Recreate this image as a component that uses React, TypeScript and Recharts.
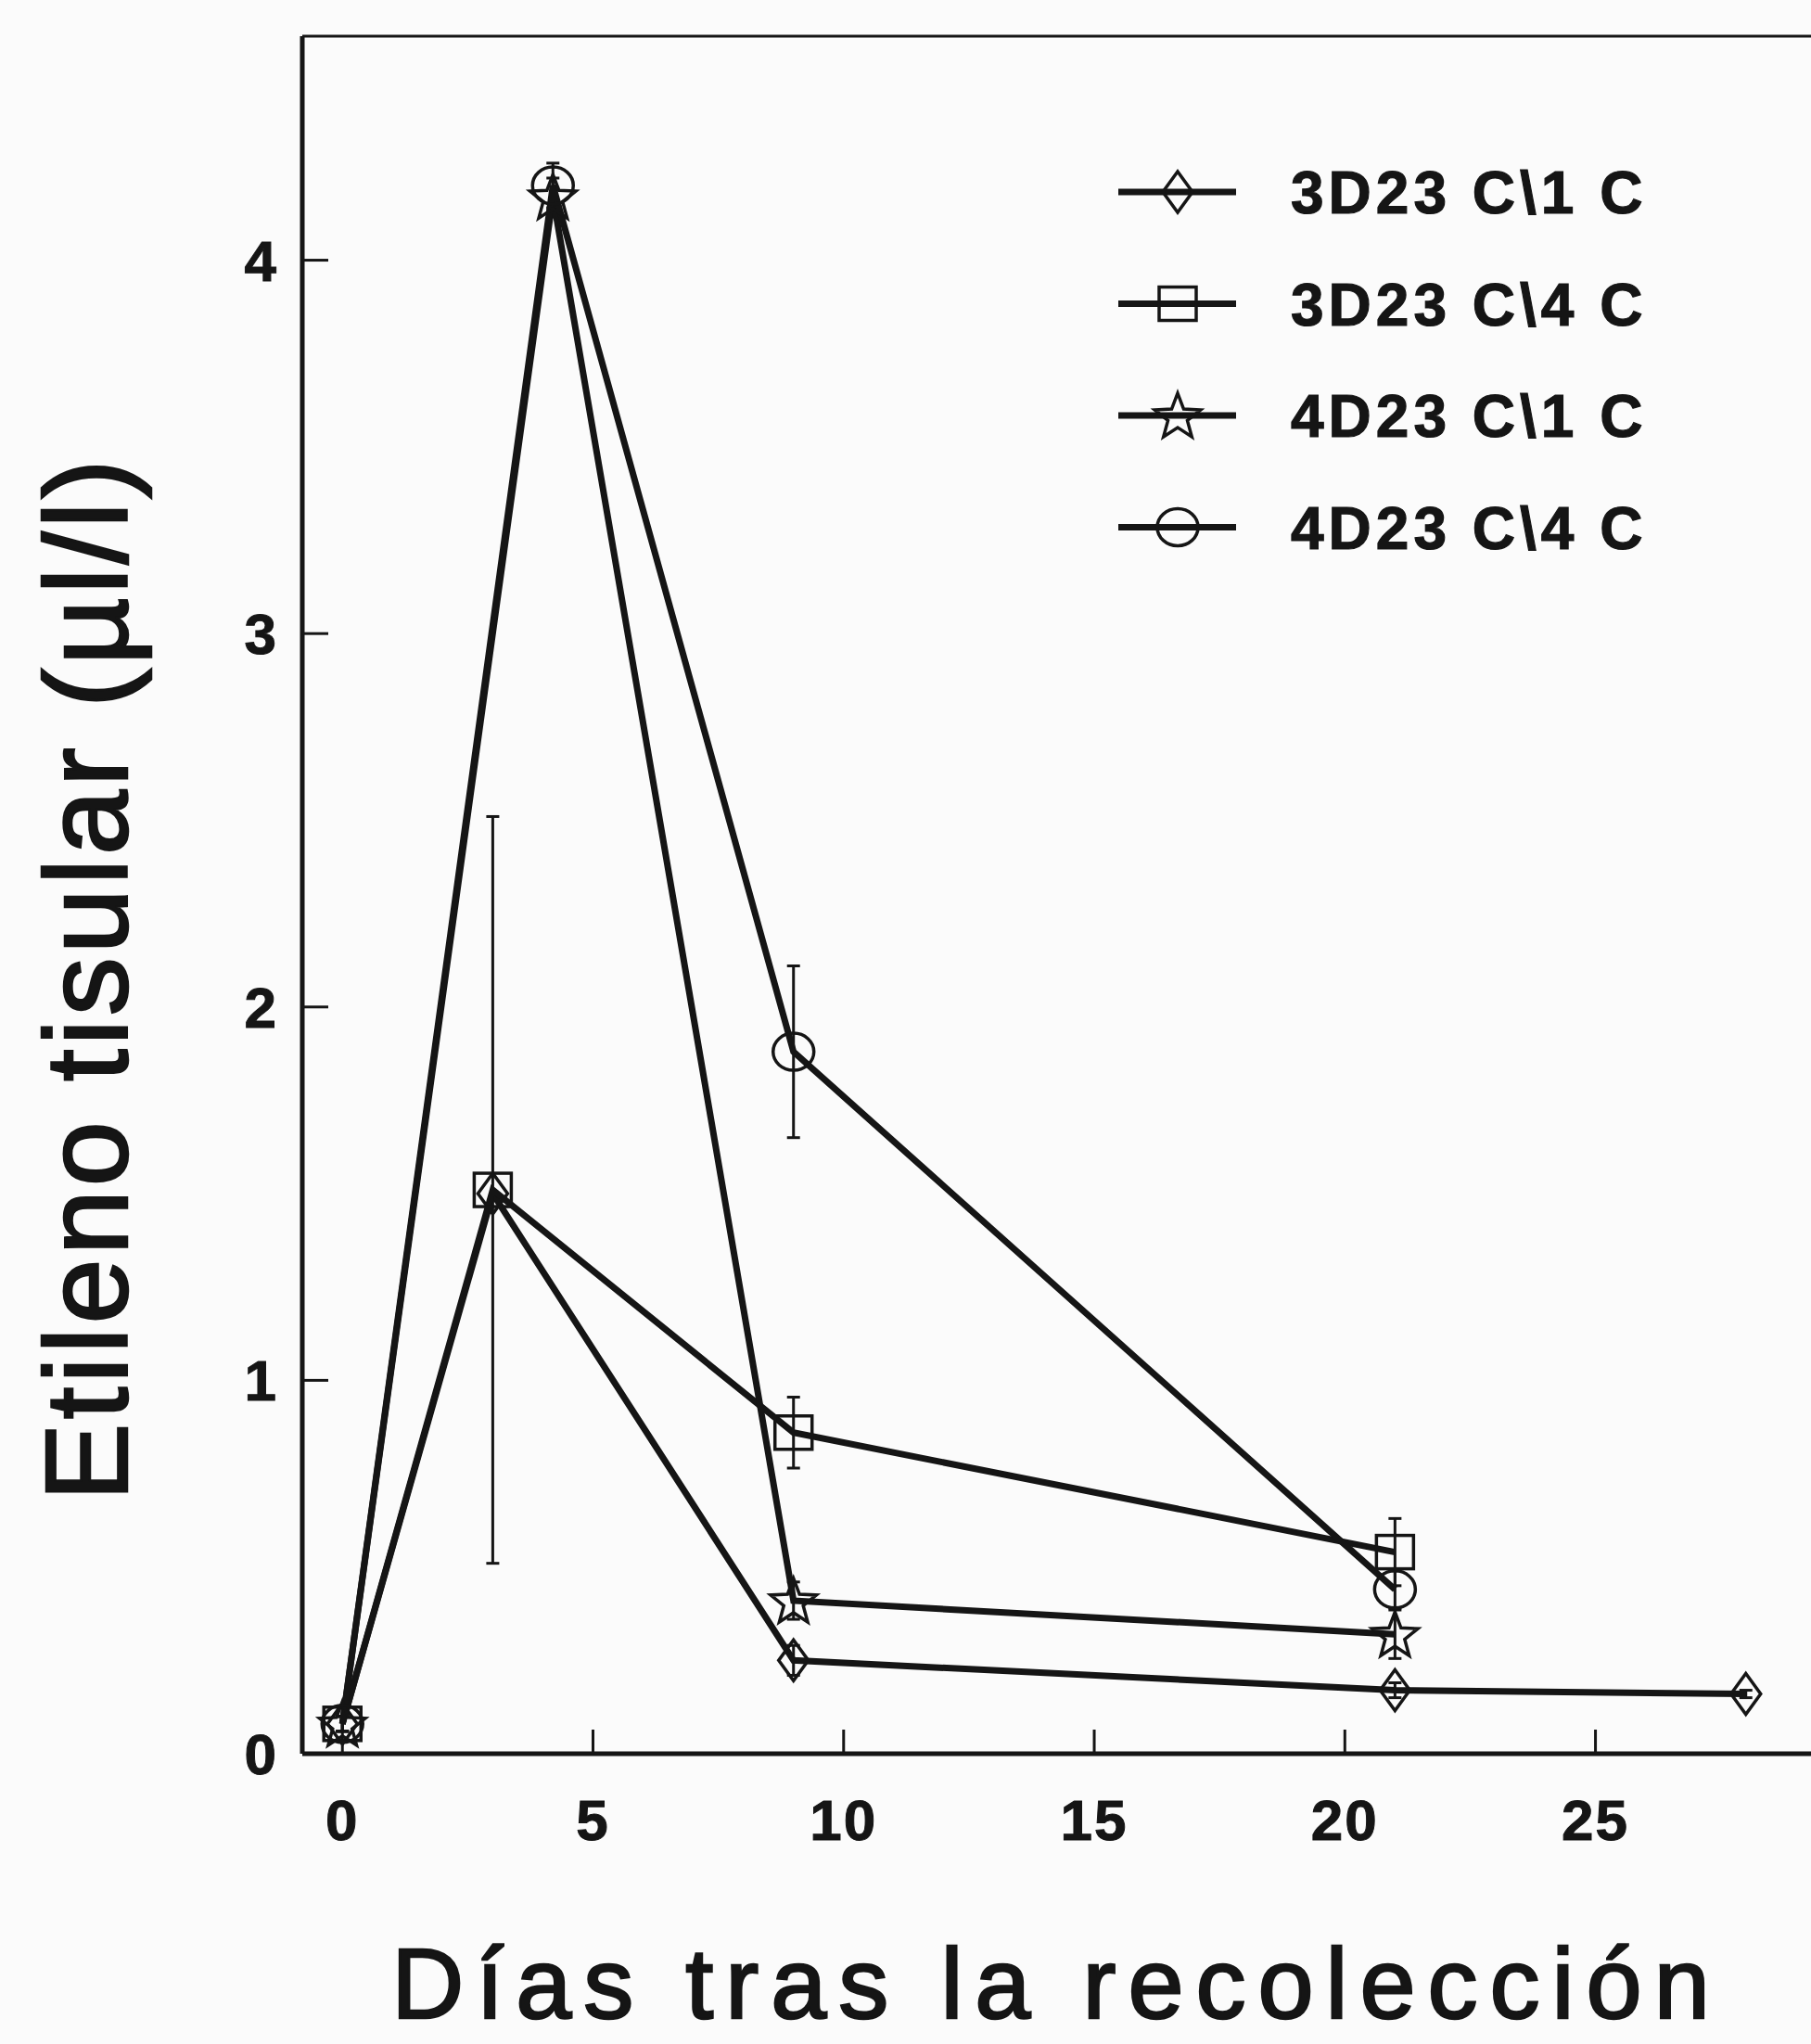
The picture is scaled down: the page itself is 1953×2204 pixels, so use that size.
import React from "react";
import { LineChart, Line, XAxis, YAxis, ErrorBar, Legend, ReferenceLine, Label } from "recharts";

const INK = "#151515";
const FONT = "'Liberation Sans', Arial, Helvetica, sans-serif";

const SERIES_NAMES = ["3D23 C\\1 C", "3D23 C\\4 C", "4D23 C\\1 C", "4D23 C\\4 C"];
const SHAPES = ["diamond", "square", "star", "circle"];

// días tras la recolección / etileno tisular (µl/l) / error
const DAYS_3D23_1C = [0, 3, 9, 21, 28];
const ETH_3D23_1C = [0.08, 1.5, 0.25, 0.17, 0.16];
const ERR_3D23_1C = [0.02, 0, 0.04, 0.02, 0.01];

const DAYS_3D23_4C = [0, 3, 9, 21];
const ETH_3D23_4C = [0.08, 1.51, 0.86, 0.54];
const ERR_3D23_4C = [0.02, 1.0, 0.095, 0.09];

const DAYS_4D23_1C = [0, 4.2, 9, 21];
const ETH_4D23_1C = [0.08, 4.17, 0.41, 0.32];
const ERR_4D23_1C = [0.02, 0.05, 0.05, 0.065];

const DAYS_4D23_4C = [0, 4.2, 9, 21];
const ETH_4D23_4C = [0.08, 4.2, 1.88, 0.44];
const ERR_4D23_4C = [0.02, 0.06, 0.23, 0.05];

const X_TICKS = [0, 5, 10, 15, 20, 25];
const Y_TICKS = [0, 1, 2, 3, 4];
const X_DOMAIN = [-0.8, 29.3];
const Y_DOMAIN = [0, 4.6];

const toRows = (days: number[], eth: number[], err: number[]) =>
  days.map((day, i) => ({ day, eth: eth[i], err: err[i] }));

const SERIES = [
  toRows(DAYS_3D23_1C, ETH_3D23_1C, ERR_3D23_1C),
  toRows(DAYS_3D23_4C, ETH_3D23_4C, ERR_3D23_4C),
  toRows(DAYS_4D23_1C, ETH_4D23_1C, ERR_4D23_1C),
  toRows(DAYS_4D23_4C, ETH_4D23_4C, ERR_4D23_4C),
];

function starPoints(cx: number, cy: number, ro: number, ri: number) {
  const pts: string[] = [];
  for (let k = 0; k < 10; k++) {
    const r = k % 2 === 0 ? ro : ri;
    const a = -Math.PI / 2 + (k * Math.PI) / 5;
    pts.push(`${cx + r * Math.cos(a)},${cy + r * Math.sin(a)}`);
  }
  return pts.join(" ");
}

function Marker({ shape, cx, cy }: { shape: string; cx: number; cy: number }) {
  const common = { fill: "none", stroke: INK, strokeWidth: 3.5 };
  if (cx == null || cy == null) return null;
  switch (shape) {
    case "diamond":
      return (
        <polygon
          points={`${cx},${cy - 22} ${cx + 16},${cy} ${cx},${cy + 22} ${cx - 16},${cy}`}
          {...common}
        />
      );
    case "square":
      return <rect x={cx - 20} y={cy - 18} width={40} height={36} {...common} />;
    case "star":
      return <polygon points={starPoints(cx, cy + 2, 26, 11)} {...common} />;
    default:
      return <ellipse cx={cx} cy={cy} rx={22} ry={20} {...common} />;
  }
}

function LegendBox({ payload }: any) {
  return (
    <svg width={720} height={480} style={{ overflow: "visible" }}>
      {(payload || []).map((item: any, i: number) => {
        const y = 47 + i * 120.5;
        const shape = SHAPES[SERIES_NAMES.indexOf(item.value)];
        return (
          <g key={item.value}>
            <line x1={16} x2={143} y1={y} y2={y} stroke={INK} strokeWidth={7} />
            <Marker shape={shape} cx={80} cy={y} />
            <text
              x={202}
              y={y + 23}
              fill={INK}
              stroke={INK}
              strokeWidth={1.2}
              fontFamily={FONT}
              fontWeight={700}
              fontSize={64}
              letterSpacing={5}
            >
              {item.value}
            </text>
          </g>
        );
      })}
    </svg>
  );
}

export default function App() {
  const tickStyle = {
    fill: INK,
    stroke: INK,
    strokeWidth: 1,
    fontSize: 62,
    fontWeight: 700,
    fontFamily: FONT,
    letterSpacing: 2,
  };
  return (
    <div
      style={{
        position: "absolute",
        left: 0,
        top: 0,
        width: 1953,
        height: 2204,
        background: "#fbfbfb",
        overflow: "hidden",
      }}
    >
      <LineChart width={1953} height={2204} margin={{ top: 39, right: 0, bottom: 0, left: 0 }}>
        <XAxis
          type="number"
          dataKey="day"
          domain={X_DOMAIN}
          allowDataOverflow
          ticks={X_TICKS}
          height={313}
          tickSize={-26}
          tickMargin={75}
          axisLine={{ stroke: INK, strokeWidth: 5 }}
          tickLine={{ stroke: INK, strokeWidth: 3 }}
          tick={tickStyle}
        >
          <Label
            value="Días tras la recolección"
            position="insideBottom"
            offset={28}
            fill={INK}
            stroke={INK}
            strokeWidth={2.5}
            fontSize={108}
            fontFamily={FONT}
            letterSpacing={13}
          />
        </XAxis>
        <YAxis
          type="number"
          domain={Y_DOMAIN}
          allowDataOverflow
          ticks={Y_TICKS}
          width={326}
          tickSize={-28}
          tickMargin={54}
          axisLine={{ stroke: INK, strokeWidth: 5 }}
          tickLine={{ stroke: INK, strokeWidth: 3 }}
          tick={tickStyle}
        >
          <Label
            content={({ viewBox }: any) => {
              const x = viewBox.x + 137;
              const y = viewBox.y + viewBox.height / 2 + 90;
              return (
                <text
                  x={x}
                  y={y}
                  transform={`rotate(-90 ${x} ${y})`}
                  textAnchor="middle"
                  fill={INK}
                  stroke={INK}
                  strokeWidth={2.5}
                  fontSize={126}
                  fontFamily={FONT}
                  letterSpacing={4}
                >
                  Etileno tisular (µl/l)
                </text>
              );
            }}
          />
        </YAxis>
        <ReferenceLine y={Y_DOMAIN[1]} stroke={INK} strokeWidth={3} />
        {SERIES.map((rows, s) => (
          <Line
            key={SERIES_NAMES[s]}
            name={SERIES_NAMES[s]}
            data={rows}
            dataKey="eth"
            stroke={INK}
            strokeWidth={7}
            isAnimationActive={false}
            activeDot={false}
            dot={(p: any) => (
              <Marker key={`${s}-${p.index}`} shape={SHAPES[s]} cx={p.cx} cy={p.cy} />
            )}
          >
            <ErrorBar
              dataKey="err"
              direction="y"
              width={7}
              stroke={INK}
              strokeWidth={3}
              isAnimationActive={false}
            />
          </Line>
        ))}
        <Legend
          layout="vertical"
          align="center"
          verticalAlign="middle"
          content={<LegendBox />}
          wrapperStyle={{ top: 160, left: 1190, width: 720, height: 480 }}
        />
      </LineChart>
    </div>
  );
}
